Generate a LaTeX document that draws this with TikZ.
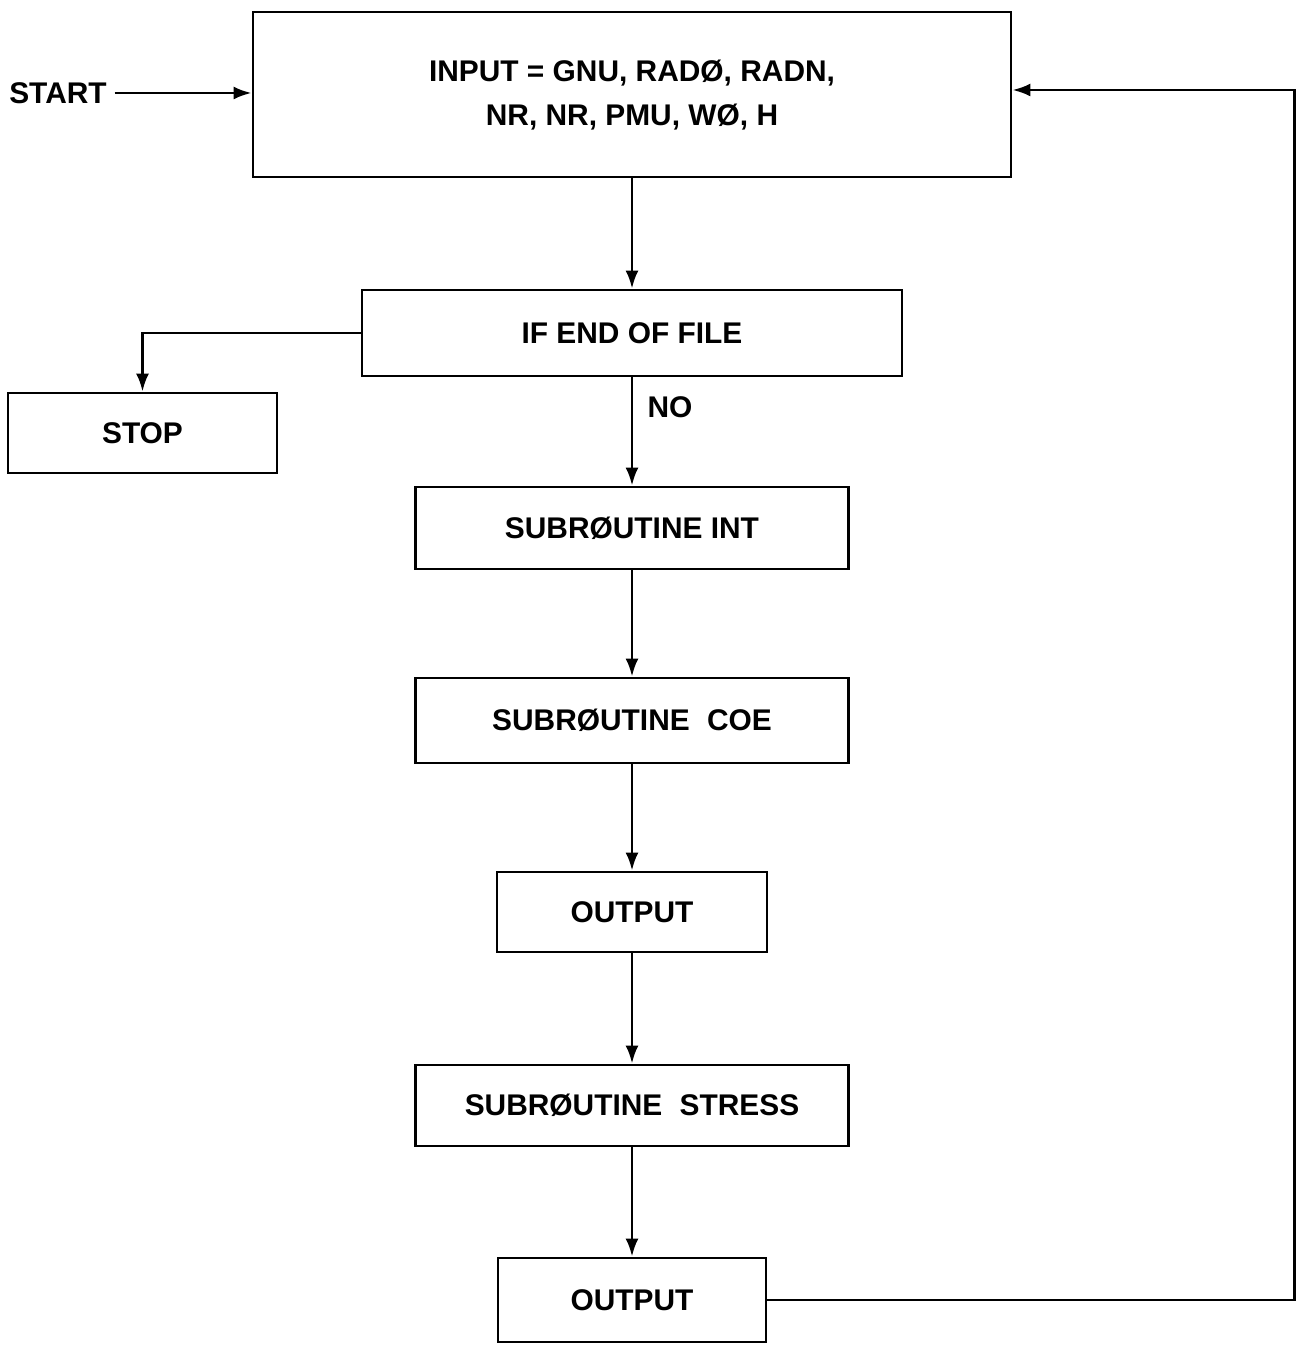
\documentclass[tikz,border=0pt]{standalone}
\usepackage{fontspec}
\setmainfont{Liberation Sans}
\usetikzlibrary{arrows.meta}
\begin{document}
\begin{tikzpicture}[>={Latex[length=9bp,width=6.5bp]},line width=1.4pt,
  font=\fontsize{15}{22}\selectfont\bfseries,
  flowbox/.style={draw,inner sep=0pt}]
\useasboundingbox (0bp,0bp) rectangle (648.5bp,674.5bp);
%%
\node (node_input) at (316bp,627.25bp) [flowbox,minimum width=379bp,minimum height=82.5bp,align=center] {\raisebox{-3bp}{\begin{tabular}{@{}c@{}}INPUT = GNU, RADØ, RADN,\\NR, NR, PMU, WØ, H\end{tabular}}};
  \node (node_eof) at (316bp,508bp) [flowbox,minimum width=270bp,minimum height=43bp] {IF END OF FILE};
  \node (node_stop) at (71.25bp,458bp) [flowbox,minimum width=134.5bp,minimum height=40bp] {STOP};
  \node (node_int) at (316bp,410.5bp) [flowbox,minimum width=216.5bp,minimum height=41bp] {SUBRØUTINE INT};
  \node (node_coe) at (316bp,314.25bp) [flowbox,minimum width=216.5bp,minimum height=42.5bp] {SUBRØUTINE\hspace{0.3em} COE};
  \node (node_out1) at (316bp,218.5bp) [flowbox,minimum width=135bp,minimum height=40bp] {OUTPUT};
  \node (node_stress) at (316bp,121.75bp) [flowbox,minimum width=216.5bp,minimum height=40.5bp] {SUBRØUTINE\hspace{0.3em} STRESS};
  \node (node_out2) at (316bp,24.5bp) [flowbox,minimum width=134bp,minimum height=42bp] {OUTPUT};
  \node (node_start) at (29bp,628bp) [draw=none] {START};
  \node (node_no) at (335bp,471bp) [draw=none] {NO};
  \coordinate (loop_x) at (647.3bp,629.5bp);
%
\draw [->] (node_start) -- (node_start -| node_input.west);
  \draw [->] (node_input) -- (node_eof);
  \draw [->] (node_eof.west) -| (node_stop.north);
  \draw [->] (node_eof) -- (node_int);
  \draw [->] (node_int) -- (node_coe);
  \draw [->] (node_coe) -- (node_out1);
  \draw [->] (node_out1) -- (node_stress);
  \draw [->] (node_stress) -- (node_out2);
  \draw [->] (node_out2.east) -- (node_out2.east -| loop_x) -- (loop_x) -- (loop_x -| node_input.east);
%
\end{tikzpicture}
\end{document}
